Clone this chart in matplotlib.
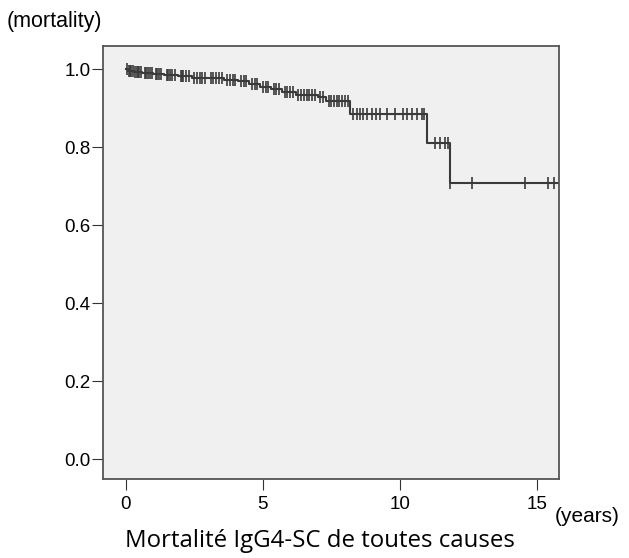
import matplotlib.pyplot as plt

# Kaplan-Meier steps: event times (years) and survival after each event
event_times = [0.0, 0.1, 0.3, 0.6, 1.0, 1.4, 1.9, 2.4, 3.0, 3.6, 4.1, 4.5, 4.9,
               5.3, 5.7, 6.2, 7.0, 7.3, 8.2, 11.0, 11.84]
surv = [1.0, 0.995, 0.992, 0.990, 0.987, 0.984, 0.981, 0.978, 0.976, 0.973,
        0.968, 0.961, 0.955, 0.948, 0.940, 0.934, 0.928, 0.918, 0.884, 0.811, 0.709]
end_time = 15.8

# censored observations (years)
censor_times = [0.05, 0.12, 0.15, 0.2, 0.25, 0.35, 0.4, 0.45, 0.5, 0.55, 0.7, 0.75,
                0.8, 0.9, 0.95, 1.1, 1.15, 1.2, 1.3, 1.5, 1.55, 1.6, 1.7, 1.8,
                2.0, 2.05, 2.1, 2.2, 2.3, 2.5, 2.6, 2.7, 2.8, 2.9, 3.1, 3.2, 3.3,
                3.4, 3.5, 3.7, 3.8, 3.9, 4.0, 4.2, 4.3, 4.4, 4.6, 4.7, 4.8, 5.0,
                5.1, 5.2, 5.4, 5.5, 5.6, 5.8, 5.9, 6.0, 6.1, 6.3, 6.4, 6.5, 6.6,
                6.7, 6.8, 6.9, 7.1, 7.2, 7.4, 7.5, 7.6, 7.7, 7.8, 7.9, 8.0, 8.1,
                8.31, 8.43, 8.55, 8.67, 8.82, 8.98, 9.13, 9.28, 9.52, 9.83, 10.13,
                10.28, 10.44, 10.62, 10.8, 10.89,
                11.29, 11.47, 11.65, 11.77, 11.84, 12.65, 14.57, 15.42, 15.63]

x_ticks = [0, 5, 10, 15]
y_ticks = [0.0, 0.2, 0.4, 0.6, 0.8, 1.0]


def surv_at(t):
    s = 1.0
    for et, sv in zip(event_times, surv):
        if et <= t:
            s = sv
    return s


plt.rcParams['font.family'] = ['Liberation Sans', 'DejaVu Sans']
fig = plt.figure(figsize=(6.29, 5.58), dpi=100)
ax = fig.add_axes([103 / 629, 1 - 479 / 558, 456 / 629, 433 / 558])
ax.set_facecolor('#f0f0f0')

xs = event_times + [end_time]
ys = surv + [surv[-1]]
ax.step(xs, ys, where='post', color='#3a3a3a', lw=1.5)
ax.plot(censor_times, [surv_at(t) for t in censor_times], '|', color='#3a3a3a',
        markersize=8, markeredgewidth=1.2)

ax.set_xlim(-0.83, 15.81)
ax.set_ylim(-0.051, 1.059)
ax.set_xticks(x_ticks)
ax.set_yticks(y_ticks)
ax.set_yticklabels(['%.1f' % v for v in y_ticks])
ax.tick_params(axis='x', length=8, pad=4, labelsize=13.5, color='#333333')
ax.tick_params(axis='y', length=8, pad=1, labelsize=13.5, color='#333333')
for sp in ax.spines.values():
    sp.set_color('#555555')
    sp.set_linewidth(1.3)

fig.text(7 / 629, 1 - 22 / 558, '(mortality)', fontsize=15.5, va='center', ha='left')
fig.text(555 / 629, 1 - 517 / 558, '(years)', fontsize=15, va='center', ha='left')
fig.text(320 / 629, 1 - 541 / 558, 'Mortalité IgG4-SC de toutes causes',
         fontsize=17.3, va='center', ha='center', family=['Open Sans', 'DejaVu Sans'])

fig.savefig('out.png', dpi=100)
